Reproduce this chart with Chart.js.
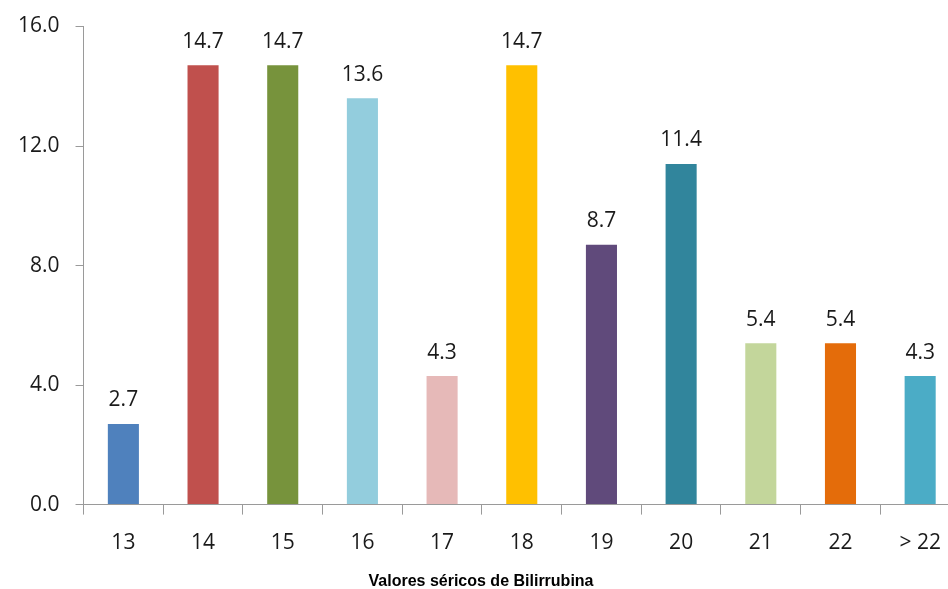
<!DOCTYPE html>
<html>
<head>
<meta charset="utf-8">
<script src="https://cdn.jsdelivr.net/npm/chart.js@4/dist/chart.umd.min.js"></script>
<style>
  html, body { margin: 0; padding: 0; background: #fff; overflow: hidden; }
  #wrap { width: 960px; height: 589px; }
</style>
</head>
<body>
<div id="wrap"><canvas id="c"></canvas></div>
<script>
const categories = ['13', '14', '15', '16', '17', '18', '19', '20', '21', '22', '> 22']
const values = [2.7, 14.7, 14.7, 13.6, 4.3, 14.7, 8.7, 11.4, 5.4, 5.4, 4.3]
const barColors = ['#4F81BD', '#C0504D', '#77933C', '#93CDDD', '#E6B9B8', '#FFC000', '#604A7B', '#31859C', '#C3D69B', '#E46C0A', '#4BACC6']
const yTicks = [0, 4, 8, 12, 16]

const axisGrey = '#9a9a9a'
const textFont = "'Open Sans', 'DejaVu Sans', sans-serif"

// labels on top of each bar
const valueLabels = {
  id: 'valueLabels',
  afterDatasetsDraw(chart) {
    const { ctx } = chart
    const meta = chart.getDatasetMeta(0)
    ctx.save()
    ctx.font = `21px ${textFont}`
    ctx.fillStyle = '#1a1a1a'
    ctx.textAlign = 'center'
    ctx.textBaseline = 'bottom'
    meta.data.forEach((bar, i) => {
      ctx.fillText(values[i].toFixed(1), bar.x, bar.y - 13)
    })
    ctx.restore()
  }
}

new Chart(document.getElementById('c'), {
  type: 'bar',
  data: {
    labels: categories,
    datasets: [{
      data: values,
      backgroundColor: barColors,
      borderWidth: 0,
      barPercentage: 0.39,
      categoryPercentage: 1.0
    }]
  },
  options: {
    responsive: true,
    maintainAspectRatio: false,
    animation: false,
    layout: { padding: { top: 23, left: 2, right: 0, bottom: -2 } },
    plugins: {
      legend: { display: false },
      tooltip: { enabled: false },
      title: {
        display: true,
        position: 'bottom',
        text: 'Valores séricos de Bilirrubina',
        color: '#000',
        font: { family: 'Arial, "Liberation Sans", sans-serif', size: 16, weight: 'bold' },
        padding: { top: 0, bottom: 0 }
      }
    },
    scales: {
      x: {
        offset: true,
        grid: { offset: true, drawOnChartArea: false, color: axisGrey, tickLength: 10, tickWidth: 1 },
        border: { color: axisGrey, width: 1 },
        ticks: { color: '#1a1a1a', font: { family: textFont, size: 21 }, padding: 16 }
      },
      y: {
        min: 0,
        max: 16,
        afterBuildTicks(axis) { axis.ticks = yTicks.map(v => ({ value: v })) },
        grid: { drawOnChartArea: false, color: axisGrey, tickLength: 8 },
        border: { color: axisGrey, width: 1 },
        ticks: {
          color: '#1a1a1a',
          font: { family: textFont, size: 21, lineHeight: 1 },
          padding: 16,
          callback: v => Number(v).toFixed(1)
        }
      }
    }
  },
  plugins: [valueLabels]
})
</script>
</body>
</html>
